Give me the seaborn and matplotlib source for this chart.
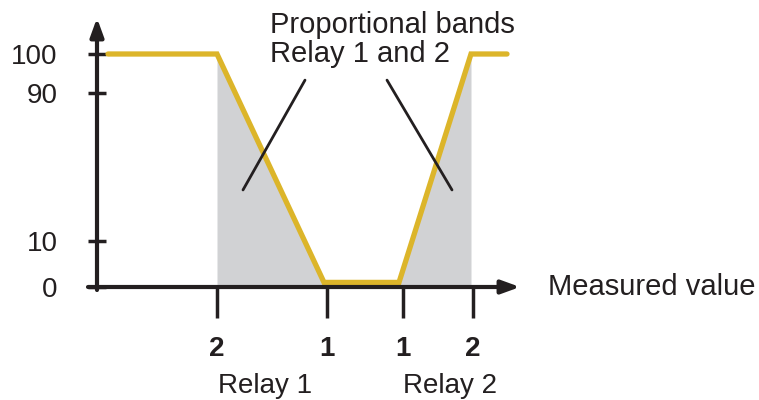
import numpy as np
import matplotlib
matplotlib.use('Agg')
import matplotlib.pyplot as plt
import seaborn as sns

# output curve (measured value in arbitrary units, output in %)
measured = [11, 120, 227, 302, 374, 410]
output = [100, 100, 1, 1, 100, 100]

# shaded proportional bands
band_x = [120, 227, 302, 374]
band_y = [100, 1, 1, 100]

# axis ticks
x_ticks = [120, 230, 306, 376]
x_tick_labels = ['2', '1', '1', '2']
y_ticks = [0, 10, 90, 100]
y_tick_labels = ['0', '10', '90', '100']

relay_labels = ['Relay 1', 'Relay 2']
relay_pos = [168, 353]

ink = '#231f20'
yellow = '#dcb52a'
grey = '#d1d2d4'

sns.set_style('white')
plt.rcParams['font.family'] = ['Liberation Sans', 'DejaVu Sans']

# the y axis in the drawing is not to scale: 0-10 and 90-100 are stretched
v_pts = [-1000, 0, 10, 90, 100, 1000]
h_pts = [-4600, 0, 46, 194, 233, 233 + 900 * 3.9]


def fwd(v):
    return np.interp(v, v_pts, h_pts)


def inv(h):
    return np.interp(h, h_pts, v_pts)


fig = plt.figure(figsize=(7.59, 4.0), dpi=100)
ax = fig.add_axes([0, 0, 1, 1])
ax.set_yscale('function', functions=(fwd, inv))
ax.set_xlim(-97, 662)
ax.set_ylim(inv(-113), inv(287))

ax.fill_between(band_x, band_y, 0, color=grey, lw=0, zorder=1)
sns.lineplot(x=measured, y=output, color=yellow, lw=3.8, ax=ax, zorder=2,
             solid_joinstyle='miter')

# axes with arrow heads
ax.annotate('', xy=(0, inv(269)), xytext=(0, inv(-3)),
            arrowprops=dict(arrowstyle='-|>,head_length=1.1,head_width=0.4',
                            lw=3, color=ink, shrinkA=0, shrinkB=0), zorder=4)
ax.annotate('', xy=(423, 0), xytext=(-9, 0),
            arrowprops=dict(arrowstyle='-|>,head_length=1.1,head_width=0.4',
                            lw=3, color=ink, shrinkA=0, shrinkB=0), zorder=4)

for s in ax.spines.values():
    s.set_visible(False)
ax.spines['left'].set_position(('data', 0))
ax.spines['bottom'].set_position(('data', 0))

ax.set_yticks(y_ticks)
ax.set_yticklabels(y_tick_labels)
ax.set_xticks(x_ticks)
ax.set_xticklabels(x_tick_labels, fontweight='bold')
ax.tick_params(axis='y', direction='inout', length=13, width=2.5, color=ink,
               labelsize=20, labelcolor=ink, pad=22, left=True)
ax.tick_params(axis='x', direction='out', length=22, width=2.5, color=ink,
               labelsize=20, labelcolor=ink, pad=13, bottom=True)
ax.minorticks_off()

# leader lines to the bands
ax.plot([208, 146], [93.3, 37.6], color=ink, lw=2, zorder=5)
ax.plot([290, 355], [93.3, 37.6], color=ink, lw=2, zorder=5)

ax.text(173, inv(276), 'Proportional bands\nRelay 1 and 2', fontsize=21,
        color=ink, ha='left', va='top', linespacing=1.05)
ax.text(451, 0, 'Measured value', fontsize=21, color=ink, ha='left',
        va='center')
for lab, xp in zip(relay_labels, relay_pos):
    ax.text(xp, inv(-99), lab, fontsize=20, color=ink, ha='center',
            va='center')

fig.savefig('out.png', dpi=100)
